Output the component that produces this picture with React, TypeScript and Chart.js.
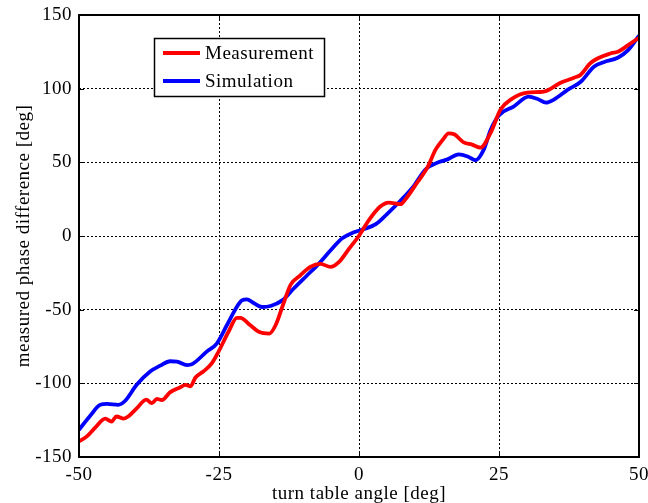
import React, { useEffect, useRef } from "react";
import { Chart, registerables } from "chart.js";

Chart.register(...registerables);

const measX = [-50, -48.6, -47.1, -45.3, -44.2, -43.3, -42, -41.2, -39.7, -38, -37, -36.1, -35.2, -33.7, -31.9, -31, -30.1, -29.2, -27.8, -26.3, -25.1, -23.3, -21.8, -21.2, -19.4, -17.9, -16, -14.9, -13.5, -12.2, -10.5, -8.7, -6.9, -5.1, -3.6, -1.8, 0, 1.8, 3.8, 5.3, 7.4, 8.3, 10.4, 12.2, 13.7, 15, 16, 17, 18.7, 20.2, 21.7, 23.5, 25.3, 27.1, 30.1, 33, 36, 38.4, 39.6, 41.4, 45, 46.2, 48.6, 50];
const measY = [-139.4, -136, -130, -124, -126, -122.5, -124, -122.5, -117, -111, -113.5, -110.6, -111.3, -106, -102.7, -101, -102, -96, -92, -86.5, -78.6, -65, -55.6, -55.6, -60.6, -65, -66.2, -60.6, -46, -33, -26.8, -21, -18.9, -21, -17.8, -8.8, 0.2, 11, 20, 22.7, 21.6, 25, 36.3, 46.4, 58.8, 65.5, 69.6, 69, 63.5, 62, 60, 70, 86, 92.6, 97.3, 98, 104, 107.4, 109.5, 117.6, 124, 125, 131, 134.5];

const simX = [-50, -48, -46.2, -45, -43, -41.8, -39.7, -37.3, -35.5, -33.7, -32.5, -30.7, -29.8, -27.2, -25.4, -23.6, -21.8, -20.9, -20, -18.9, -17.3, -15.8, -13.7, -11.7, -9.3, -7.2, -5.1, -3, -0.9, 0.9, 3, 5, 7.4, 9.8, 11.9, 14.3, 15.8, 17.8, 19.4, 20.8, 22.3, 23.5, 25, 27.6, 30.3, 31.9, 33.4, 34.8, 37.3, 39.6, 42, 43.7, 46.2, 48, 50];
const simY = [-131.5, -122, -114.6, -114, -114.6, -112, -101, -92, -88, -85, -85.3, -87.6, -87, -78.5, -73, -60.6, -48, -43.7, -43, -45.3, -48.2, -47.5, -43.7, -35.8, -26.8, -18.9, -9.9, -1.6, 2.5, 4.7, 8.1, 14.9, 23.9, 34, 45.3, 50.2, 52, 55.4, 54, 51.4, 58.8, 72, 82, 87.8, 94.6, 93, 90.5, 92.6, 99.3, 104.7, 115, 118, 121, 126, 136];

const xTicks = [-50, -25, 0, 25, 50];
const yTicks = [-150, -100, -50, 0, 50, 100, 150];
const seriesLabels = ["Measurement", "Simulation"];
const seriesColors = ["#ff0000", "#0000ff"];

const FONT = "'Liberation Serif', 'Times New Roman', serif";
const FSIZE = 19;
const SPACING = "0.5px";

const spacingPlugin = {
  id: "letterSpacing",
  beforeInit(chart: any) {
    chart.ctx.letterSpacing = SPACING;
  },
  beforeUpdate(chart: any) {
    chart.ctx.letterSpacing = SPACING;
  },
  beforeDraw(chart: any) {
    chart.ctx.letterSpacing = SPACING;
  },
};

const framePlugin = {
  id: "frameAndLegend",
  afterDraw(chart: any) {
    const ctx = chart.ctx;
    const a = chart.chartArea;
    const xs = chart.scales.x;
    const ys = chart.scales.y;
    ctx.save();
    ctx.strokeStyle = "#000";
    ctx.lineWidth = 1;
    ctx.setLineDash([]);
    const tl = 5;
    xTicks.forEach((v) => {
      const px = Math.round(xs.getPixelForValue(v)) + 0.5;
      ctx.beginPath();
      ctx.moveTo(px, a.bottom);
      ctx.lineTo(px, a.bottom - tl);
      ctx.moveTo(px, a.top);
      ctx.lineTo(px, a.top + tl);
      ctx.stroke();
    });
    yTicks.forEach((v) => {
      const py = Math.round(ys.getPixelForValue(v)) + 0.5;
      ctx.beginPath();
      ctx.moveTo(a.left, py);
      ctx.lineTo(a.left + tl, py);
      ctx.moveTo(a.right, py);
      ctx.lineTo(a.right - tl, py);
      ctx.stroke();
    });
    ctx.lineWidth = 2;
    ctx.strokeRect(a.left, a.top, a.right - a.left, a.bottom - a.top);

    const bx = 154.5, by = 38.5, bw = 170, bh = 58;
    ctx.fillStyle = "#fff";
    ctx.fillRect(bx, by, bw, bh);
    ctx.lineWidth = 1.5;
    ctx.strokeStyle = "#000";
    ctx.strokeRect(bx, by, bw, bh);
    ctx.font = FSIZE + "px " + FONT;
    ctx.textBaseline = "middle";
    ctx.textAlign = "left";
    chart.data.datasets.forEach((ds: any, i: number) => {
      const y = 53 + i * 28;
      ctx.strokeStyle = ds.borderColor;
      ctx.lineWidth = 4;
      ctx.beginPath();
      ctx.moveTo(163, y);
      ctx.lineTo(200, y);
      ctx.stroke();
      ctx.fillStyle = "#000";
      ctx.fillText(ds.label, 205, y + 1);
    });
    ctx.restore();
  },
};

export default function App() {
  const ref = useRef<HTMLCanvasElement | null>(null);
  useEffect(() => {
    if (!ref.current) return;
    const mk = (xa: number[], ya: number[]) => xa.map((x, i) => ({ x, y: ya[i] }));
    const chart = new Chart(ref.current, {
      type: "line",
      data: {
        datasets: [
          {
            label: seriesLabels[0],
            data: mk(measX, measY),
            borderColor: seriesColors[0],
            backgroundColor: seriesColors[0],
            borderWidth: 3.8,
            pointRadius: 0,
            cubicInterpolationMode: "monotone",
            fill: false,
          },
          {
            label: seriesLabels[1],
            data: mk(simX, simY),
            borderColor: seriesColors[1],
            backgroundColor: seriesColors[1],
            borderWidth: 3.8,
            pointRadius: 0,
            cubicInterpolationMode: "monotone",
            fill: false,
          },
        ],
      },
      options: {
        responsive: false,
        animation: false,
        layout: { padding: { top: 15, right: 9, left: 0, bottom: 0 } },
        plugins: { legend: { display: false }, tooltip: { enabled: false } },
        scales: {
          x: {
            type: "linear",
            min: -50,
            max: 50,
            afterBuildTicks: (s: any) => {
              s.ticks = xTicks.map((v) => ({ value: v }));
            },
            afterFit: (s: any) => {
              s.height = 46;
              s.paddingLeft = 0;
              s.paddingRight = 0;
            },
            ticks: {
              color: "#000",
              font: { family: FONT, size: FSIZE },
              padding: 7,
              maxRotation: 0,
              autoSkip: false,
              callback: (v: any) => String(v),
            },
            grid: { color: "#000", lineWidth: 1, drawTicks: false },
            border: { display: false, dash: [2, 2] },
            title: {
              display: true,
              text: "turn table angle [deg]",
              color: "#000",
              font: { family: FONT, size: FSIZE },
              padding: { top: 0, bottom: -2 },
            },
          },
          y: {
            type: "linear",
            min: -150,
            max: 150,
            afterBuildTicks: (s: any) => {
              s.ticks = yTicks.map((v) => ({ value: v }));
            },
            afterFit: (s: any) => {
              s.width = 79;
              s.paddingTop = 0;
              s.paddingBottom = 0;
            },
            ticks: {
              color: "#000",
              font: { family: FONT, size: FSIZE },
              padding: 7,
              autoSkip: false,
              callback: (v: any) => String(v),
            },
            grid: { color: "#000", lineWidth: 1, drawTicks: false },
            border: { display: false, dash: [2, 2] },
            title: {
              display: true,
              text: "measured phase difference [deg]",
              color: "#000",
              font: { family: FONT, size: FSIZE },
              padding: { top: 13, bottom: 0 },
            },
          },
        },
      },
      plugins: [spacingPlugin, framePlugin],
    });
    return () => chart.destroy();
  }, []);
  return (
    <div style={{ position: "fixed", left: 0, top: 0, width: 648, height: 503, background: "#fff" }}>
      <canvas ref={ref} width={648} height={503} style={{ width: 648, height: 503 }} />
    </div>
  );
}
